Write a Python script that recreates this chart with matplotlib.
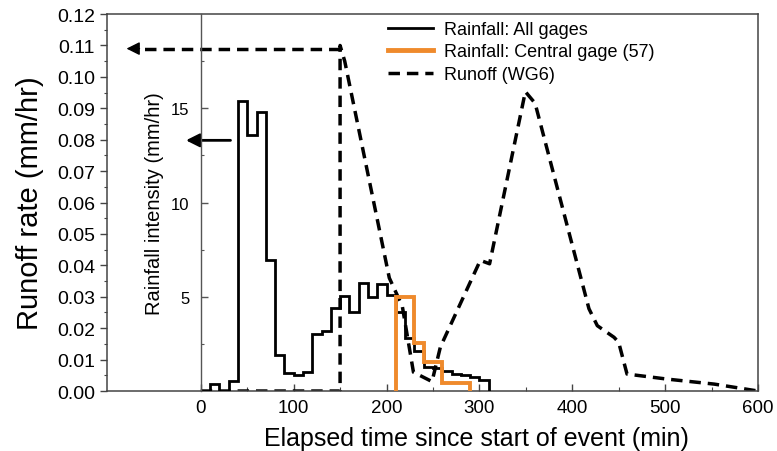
import numpy as np
import matplotlib
matplotlib.use("Agg")
import matplotlib.pyplot as plt
from matplotlib.ticker import MultipleLocator, FixedLocator, FormatStrFormatter
from matplotlib.lines import Line2D

plt.rcParams['font.family'] = ['Liberation Sans', 'DejaVu Sans']

# Rainfall, all gages: 10-min bins (mm/hr)
rain_all_edges = np.arange(0, 320, 10)
rain_all = [0.0, 0.35, 0.0, 0.55, 15.4, 13.6, 14.8, 6.95, 1.9, 0.98,
            0.84, 1.0, 3.0, 3.2, 4.4, 5.05, 4.2, 5.75, 5.0, 5.7,
            5.1, 4.2, 2.8, 2.1, 1.25, 1.2, 1.05, 0.9, 0.85, 0.72, 0.6]

# Rainfall, central gage (57)
rain_central_edges = np.arange(210, 300, 10)
rain_central = [5.0, 5.0, 2.55, 1.55, 1.55, 0.45, 0.45, 0.45]

# Runoff at WG6 (mm/hr)
runoff_t = [0, 150, 150, 155, 203, 217, 229, 249, 258, 301, 311, 349.5, 360,
            418, 427, 445, 450, 459, 502, 553, 600]
runoff_q = [0, 0, 0.110, 0.105, 0.036, 0.027, 0.006, 0.003, 0.014, 0.0416,
            0.0405, 0.0953, 0.0916, 0.0262, 0.0208, 0.0171, 0.0155, 0.0054,
            0.0038, 0.0022, 0.0]

orange = '#ef8a2c'
spine_c = '#444444'

fig = plt.figure(figsize=(7.77, 4.52), dpi=100)
ax = fig.add_axes([0.1377, 0.1327, 0.8378, 0.834])

dash = (0, (3.3, 2.0))
l_run, = ax.plot(runoff_t, runoff_q, color='k', lw=2.5, linestyle=dash,
                 label='Runoff (WG6)')

ax.set_xlim(-101, 600)
ax.set_ylim(0, 0.12)
ax.xaxis.set_major_locator(FixedLocator(np.arange(0, 700, 100)))
ax.xaxis.set_minor_locator(FixedLocator(np.arange(50, 600, 100)))
ax.yaxis.set_major_locator(MultipleLocator(0.01))
ax.yaxis.set_minor_locator(MultipleLocator(0.005))
ax.yaxis.set_major_formatter(FormatStrFormatter('%.2f'))
ax.tick_params(axis='x', which='major', direction='in', length=5, width=1,
               labelsize=13.5, pad=6, color=spine_c)
ax.tick_params(axis='x', which='minor', direction='in', length=3, width=0.8,
               color=spine_c)
ax.tick_params(axis='y', which='major', direction='out', length=5, width=1,
               labelsize=14, pad=3.5, color=spine_c)
ax.tick_params(axis='y', which='minor', direction='out', length=2.5, width=0.8,
               color=spine_c)
for s in ax.spines.values():
    s.set_color(spine_c)
    s.set_linewidth(1.1)

ax.set_ylabel('Runoff rate (mm/hr)', fontsize=21)
ax.yaxis.set_label_coords(-0.097, 0.5)
ax.set_xlabel('Elapsed time since start of event (min)', fontsize=18)
ax.xaxis.set_label_coords(0.567, -0.093)

# rainfall intensity axis sitting at t = 0
ax2 = ax.twinx()
ax2.set_ylim(0, 20)
for side in ['top', 'right', 'bottom']:
    ax2.spines[side].set_visible(False)
ax2.spines['left'].set_visible(True)
ax2.spines['left'].set_position(('data', 0))
ax2.spines['left'].set_color('#555555')
ax2.spines['left'].set_linewidth(1.0)
ax2.yaxis.tick_left()
ax2.yaxis.set_label_position('left')
ax2.yaxis.set_major_locator(FixedLocator([5, 10, 15]))
ax2.yaxis.set_minor_locator(FixedLocator([2.5, 7.5, 12.5, 17.5]))
ax2.tick_params(axis='y', which='major', direction='in', length=5, width=1,
                labelsize=12, pad=8, color='#555555')
ax2.tick_params(axis='y', which='minor', direction='in', length=2.5, width=0.8,
                color='#555555')
ax2.set_ylabel('Rainfall intensity (mm/hr)', fontsize=14.5)
ax2.yaxis.set_label_coords(0.087, 0.5)

ax2.stairs(rain_all, rain_all_edges, baseline=0, color='k', lw=2.0,
           label='Rainfall: All gages')
ax2.stairs(rain_central, rain_central_edges, baseline=0, color=orange,
           lw=2.8, label='Rainfall: Central gage (57)')

# arrows pointing to the axis each series is read against
ax.annotate('', xy=(-16, 0.0798), xytext=(32, 0.0798),
            arrowprops=dict(arrowstyle='-|>', color='k', lw=2.0,
                            mutation_scale=20, shrinkA=0, shrinkB=0))
ax.plot([150, -70], [0.109, 0.109], color='k', lw=2.5, linestyle=dash)
ax.annotate('', xy=(-80, 0.109), xytext=(-66, 0.109),
            arrowprops=dict(arrowstyle='-|>', color='k', lw=1.0,
                            mutation_scale=20, shrinkA=0, shrinkB=0))

h_all = Line2D([], [], color='k', lw=2.0)
h_cen = Line2D([], [], color=orange, lw=3.5)
h_run = Line2D([], [], color='k', lw=2.5, linestyle=dash)
fig.legend([h_all, h_cen, h_run],
           ['Rainfall: All gages', 'Rainfall: Central gage (57)', 'Runoff (WG6)'],
           loc='upper left', bbox_to_anchor=(388 / 777, 1 - 22 / 452),
           frameon=False, fontsize=13, handlelength=2.5, handletextpad=0.6,
           labelspacing=0.3, borderpad=0, borderaxespad=0)

fig.savefig('out.png', dpi=100)
